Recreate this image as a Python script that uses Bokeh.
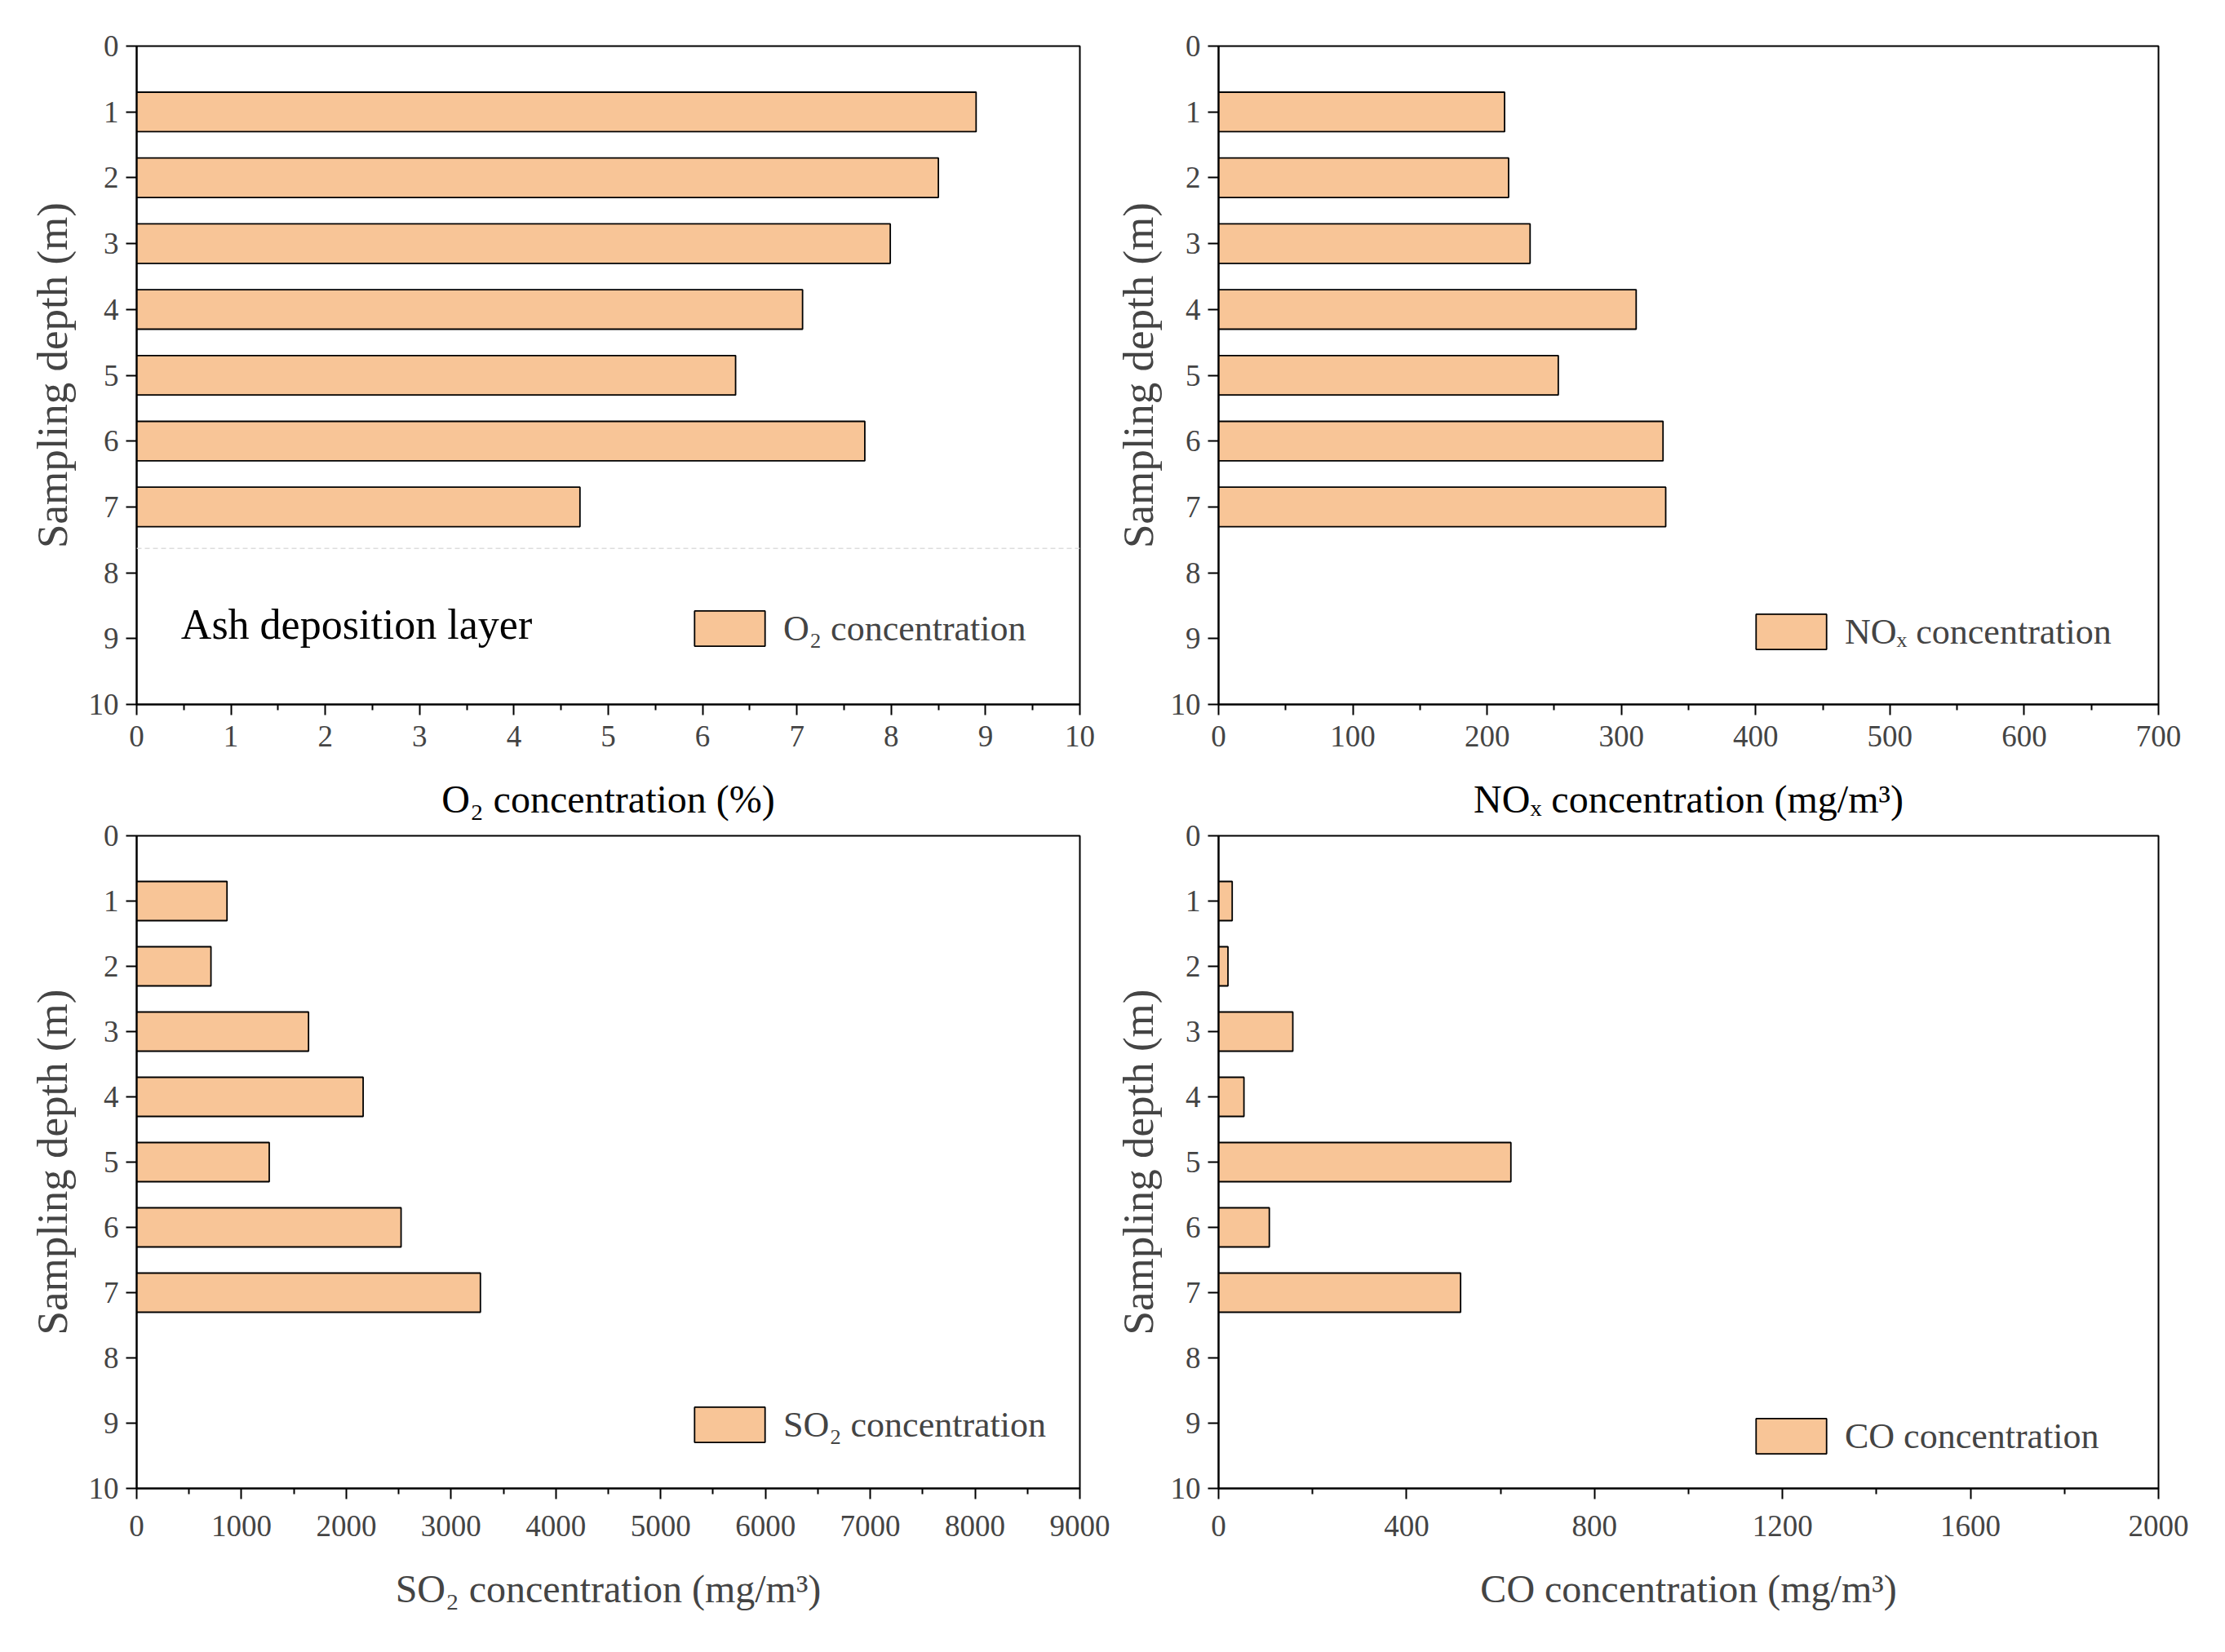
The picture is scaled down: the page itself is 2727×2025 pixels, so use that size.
from bokeh.plotting import figure
from bokeh.layouts import column, row
from bokeh.models import Range1d, FixedTicker, Legend, LegendItem, Span, Title
from bokeh.core.properties import value
from bokeh.embed import file_html
from bokeh.resources import INLINE

# ---- data ----
depths = [1, 2, 3, 4, 5, 6, 7]
o2_values = [8.90, 8.50, 7.99, 7.06, 6.35, 7.72, 4.70]
nox_values = [213, 216, 232, 311, 253, 331, 333]
so2_values = [862, 709, 1640, 2161, 1265, 2523, 3280]
co_values = [29, 20, 158, 54, 622, 108, 515]

y_ticks = list(range(0, 11))
o2_ticks = list(range(0, 11))
o2_minor = [x + 0.5 for x in range(0, 10)]
nox_ticks = list(range(0, 701, 100))
nox_minor = [x + 50 for x in range(0, 700, 100)]
so2_ticks = list(range(0, 9001, 1000))
so2_minor = [x + 500 for x in range(0, 9000, 1000)]
co_ticks = list(range(0, 2001, 400))
co_minor = [x + 200 for x in range(0, 2000, 400)]

o2_label = "O₂ concentration (%)"
nox_label = "NOₓ concentration (mg/m³)"
so2_label = "SO₂ concentration (mg/m³)"
co_label = "CO concentration (mg/m³)"
y_label = "Sampling depth (m)"

o2_legend = "O₂ concentration"
nox_legend = "NOₓ concentration"
so2_legend = "SO₂ concentration"
co_legend = "CO concentration"

ash_text = "Ash deposition layer"
ash_text_x = 0.47
ash_text_y = 8.79
ash_layer_top = 7.63

FONT = "Liberation Serif"
BAR_FILL = "#F8C597"
TICK_FS = "37px"
XLABEL_FS = "48px"
YLABEL_FS = "53px"


def make_panel(vals, xmax, xticks, minor, legend_label, width, height,
               bl, br, bt, bb, leg_loc, tick_standoff, ylab_standoff,
               xlabel=None, xlabel_standoff=0, top_title=None):
    if top_title is not None:
        ttl = Title(text=top_title, align="center", text_font=FONT,
                    text_font_size=XLABEL_FS, text_font_style="normal",
                    text_color="black", standoff=38)
    else:
        ttl = None
    p = figure(width=width, height=height, output_backend="svg",
               toolbar_location=None, title=ttl,
               x_range=Range1d(0, xmax), y_range=Range1d(10, 0),
               min_border_left=bl, min_border_right=br,
               min_border_top=bt, min_border_bottom=bb)
    p.xgrid.visible = False
    p.ygrid.visible = False
    p.outline_line_color = "black"
    p.outline_line_width = 2
    p.outline_line_alpha = 1
    p.background_fill_color = "white"
    p.border_fill_color = "white"

    r = p.hbar(y=depths, right=vals, left=0, height=0.6,
               fill_color=BAR_FILL, line_color="black", line_width=1.8)

    xa = p.xaxis[0]
    xa.ticker = FixedTicker(ticks=xticks, minor_ticks=minor)
    if xlabel is not None:
        xa.axis_label = xlabel
        xa.axis_label_text_font = FONT
        xa.axis_label_text_font_size = XLABEL_FS
        xa.axis_label_text_font_style = "normal"
        xa.axis_label_standoff = xlabel_standoff
    xa.major_label_text_font = FONT
    xa.major_label_text_font_size = TICK_FS
    xa.major_label_standoff = tick_standoff
    xa.major_tick_out = 13
    xa.major_tick_in = 0
    xa.minor_tick_out = 7
    xa.minor_tick_in = 0
    xa.axis_line_width = 2
    xa.major_tick_line_width = 2
    xa.minor_tick_line_width = 2

    ya = p.yaxis[0]
    ya.ticker = FixedTicker(ticks=y_ticks)
    ya.axis_label = y_label
    ya.axis_label_text_font = FONT
    ya.axis_label_text_font_size = YLABEL_FS
    ya.axis_label_text_font_style = "normal"
    ya.axis_label_standoff = ylab_standoff
    ya.major_label_text_font = FONT
    ya.major_label_text_font_size = TICK_FS
    ya.major_label_standoff = 9
    ya.major_tick_out = 13
    ya.major_tick_in = 0
    ya.minor_tick_out = 0
    ya.minor_tick_in = 0
    ya.axis_line_width = 2
    ya.major_tick_line_width = 2

    legend = Legend(items=[LegendItem(label=legend_label, renderers=[r])],
                    location=leg_loc, orientation="vertical",
                    glyph_width=108, glyph_height=54, label_height=54,
                    label_standoff=12, padding=0, margin=0, spacing=0,
                    border_line_alpha=0, background_fill_alpha=0,
                    label_text_font=FONT, label_text_font_size="44px",
                    label_text_baseline="middle")
    p.add_layout(legend, "center")
    return p


W_L, W_R = 1362, 1349
H_T, H_B = 931, 1063

p1 = make_panel(o2_values, 10, o2_ticks, o2_minor, o2_legend,
                W_L, H_T, 167, 39, 56, 68, (673, 66), 13, 13)
p1.add_layout(Span(location=ash_layer_top, dimension="width",
                   line_color="#dddddd", line_dash="6 4", line_width=1.5))
p1.text(x=[ash_text_x], y=[ash_text_y], text=[ash_text],
        text_font=value(FONT), text_font_size="52px",
        text_align="left", text_baseline="middle", text_color="black")

p2 = make_panel(nox_values, 700, nox_ticks, nox_minor, nox_legend,
                W_R, H_T, 127, 66, 56, 68, (648, 62), 13, 8)

p3 = make_panel(so2_values, 9000, so2_ticks, so2_minor, so2_legend,
                W_L, H_B, 167, 39, 90, 170, (673, 51), 20, 13,
                xlabel=so2_label, xlabel_standoff=35, top_title=o2_label)

p4 = make_panel(co_values, 2000, co_ticks, co_minor, co_legend,
                W_R, H_B, 127, 66, 90, 170, (648, 37), 20, 8,
                xlabel=co_label, xlabel_standoff=35, top_title=nox_label)

layout = column(row(p1, p2), row(p3, p4))

open("out.html", "w").write(file_html(layout, INLINE))
